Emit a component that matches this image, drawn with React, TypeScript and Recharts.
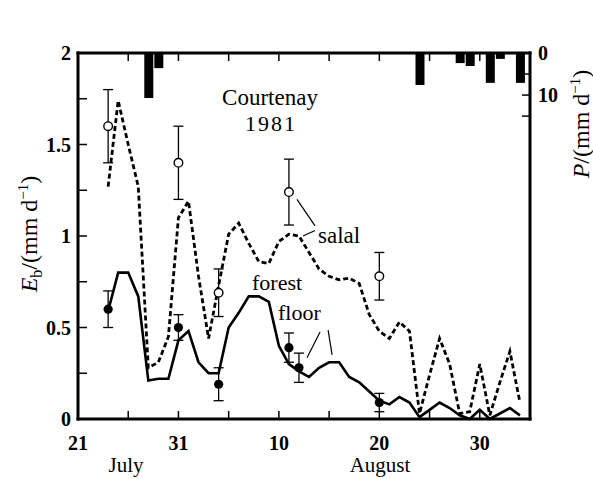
import React from 'react';
import { ComposedChart, Line, Bar, Scatter, ErrorBar, XAxis, YAxis, ReferenceLine } from 'recharts';

// days counted from 21 July 1981 (day 0) to 4 September (day 45)
const firstDay = 3;

// daily modelled evaporation E_b (mm/d), days 3..44
const salalEb = [
  1.27, 1.74, 1.5, 1.27, 0.28, 0.31, 0.45, 1.1, 1.19, 0.78,
  0.44, 0.73, 1.01, 1.07, 0.96, 0.86, 0.85, 0.97, 1.01, 1.0,
  0.91, 0.82, 0.78, 0.76, 0.77, 0.74, 0.57, 0.48, 0.44, 0.53,
  0.48, 0.03, 0.24, 0.44, 0.3, 0.03, 0.04, 0.3, 0.02, 0.2,
  0.37, 0.09,
];
const floorEb = [
  0.59, 0.8, 0.8, 0.67, 0.21, 0.22, 0.22, 0.43, 0.48, 0.31,
  0.25, 0.25, 0.5, 0.58, 0.67, 0.67, 0.64, 0.4, 0.3, 0.26,
  0.23, 0.28, 0.31, 0.31, 0.23, 0.2, 0.15, 0.1, 0.08, 0.12,
  0.09, 0.01, 0.05, 0.09, 0.06, 0.02, 0.0, 0.05, 0.0, 0.03,
  0.06, 0.02,
];

// rainfall P (mm/d)
const rainDays = [7, 8, 34, 38, 39, 41, 42, 44];
const rainMm = [10.7, 3.6, 7.6, 2.4, 3.1, 7.1, 1.4, 7.1];

// lysimeter measurements with their error
const salalObsDays = [3, 10, 14, 21, 30];
const salalObsEb = [1.6, 1.4, 0.69, 1.24, 0.78];
const salalObsErr = [0.2, 0.2, 0.13, 0.18, 0.13];
const floorObsDays = [3, 10, 14, 21, 22, 30];
const floorObsEb = [0.6, 0.5, 0.19, 0.39, 0.28, 0.09];
const floorObsErr = [0.1, 0.07, 0.09, 0.08, 0.08, 0.05];

const dayTicks = [0, 5, 10, 15, 20, 25, 30, 35, 40];
const dayLabels: Record<number, string> = { 0: '21', 10: '31', 20: '10', 30: '20', 40: '30' };
const ebTicks = [0, 0.25, 0.5, 0.75, 1, 1.25, 1.5, 1.75, 2];
const ebLabels: Record<number, string> = { 0: '0', 0.5: '0.5', 1: '1', 1.5: '1.5', 2: '2' };
const ebRightTicks = [0.25, 0.5, 0.75, 1, 1.25, 1.5];
const pTicks = [0, 5, 10, 15];
const pLabels: Record<number, string> = { 0: '0', 10: '10' };

const table = Array.from({ length: 46 }, (_, day) => {
  const i = day - firstDay;
  const r = rainDays.indexOf(day);
  return {
    day,
    salal: salalEb[i] ?? null,
    floor: floorEb[i] ?? null,
    rain: r >= 0 ? rainMm[r] : null,
  };
});

const salalObs = salalObsDays.map((day, i) => ({ day, eb: salalObsEb[i], err: salalObsErr[i] }));
const floorObs = floorObsDays.map((day, i) => ({ day, eb: floorObsEb[i], err: floorObsErr[i] }));

const serif = '"Liberation Serif", "DejaVu Serif", serif';
const tickFont = { fontFamily: serif, fontSize: 20, fontWeight: 700, fill: '#000' };
const textFont = { fontFamily: serif, fontSize: 22, fill: '#000' };
const titleFont = { fontFamily: serif, fontSize: 24, fill: '#000' };
const frame = { stroke: '#000', strokeWidth: 3, strokeLinecap: 'square' as const };

const BottomTick = ({ x, y, payload }: any) => (
  <g>
    <line x1={x} y1={y} x2={x} y2={y - 8} stroke="#000" strokeWidth={1.5} />
    {dayLabels[payload.value] && (
      <text x={x} y={y + 31} textAnchor="middle" style={tickFont}>{dayLabels[payload.value]}</text>
    )}
  </g>
);

const TopTick = ({ x, y }: any) => (
  <line x1={x} y1={y} x2={x} y2={y + 8} stroke="#000" strokeWidth={1.5} />
);

const LeftTick = ({ x, y, payload }: any) => (
  <g>
    <line x1={x} y1={y} x2={x + 9} y2={y} stroke="#000" strokeWidth={1.5} />
    {ebLabels[payload.value] && (
      <text x={x - 7} y={y + 7} textAnchor="end" style={tickFont}>{ebLabels[payload.value]}</text>
    )}
  </g>
);

const RightTick = ({ x, y }: any) => (
  <line x1={x - 8} y1={y} x2={x} y2={y} stroke="#000" strokeWidth={1.5} />
);

const PTick = ({ x, y, payload }: any) => (
  <g>
    <line x1={x - 9} y1={y} x2={x - 1} y2={y} stroke="#000" strokeWidth={1.5} />
    {pLabels[payload.value] && (
      <text x={x + 7} y={y + 7} textAnchor="start" style={tickFont}>{pLabels[payload.value]}</text>
    )}
  </g>
);

const OpenDot = ({ cx, cy }: any) => (
  <circle cx={cx} cy={cy} r={4.3} fill="#fff" stroke="#000" strokeWidth={1.4} />
);
const FilledDot = ({ cx, cy }: any) => <circle cx={cx} cy={cy} r={4.6} fill="#000" />;

const leader = { xAxisId: 'bottom', yAxisId: 'e', stroke: '#000', strokeWidth: 1.2 };

export default function App() {
  return (
    <div style={{ width: 593, height: 479, background: '#fff' }}>
      <style>{'body { margin: 0; }'}</style>
      <ComposedChart width={593} height={479} data={table} margin={{ top: 0, right: 0, bottom: 0, left: 0 }}>
        <XAxis xAxisId="bottom" dataKey="day" type="number" domain={[0, 45]} ticks={dayTicks} interval={0}
          height={60} tickSize={0} tickMargin={0} tickLine={false} axisLine={frame} tick={<BottomTick />} />
        <XAxis xAxisId="top" orientation="top" dataKey="day" type="number" domain={[0, 45]} ticks={dayTicks} interval={0}
          height={53} tickSize={0} tickMargin={0} tickLine={false} axisLine={frame} tick={<TopTick />} />
        <YAxis yAxisId="e" type="number" domain={[0, 2]} ticks={ebTicks} interval={0} width={78}
          tickSize={0} tickMargin={0} tickLine={false} axisLine={frame} tick={<LeftTick />} />
        <YAxis yAxisId="eR" orientation="right" type="number" domain={[0, 2]} ticks={ebRightTicks} interval={0} width={1}
          tickSize={0} tickMargin={0} tickLine={false} axisLine={frame} tick={<RightTick />} />
        <YAxis yAxisId="p" orientation="right" type="number" reversed domain={[0, 87]} ticks={pTicks} interval={0} width={62}
          tickSize={0} tickMargin={0} tickLine={false} axisLine={false} tick={<PTick />} />

        <Bar xAxisId="top" yAxisId="p" dataKey="rain" fill="#000" barSize={9} isAnimationActive={false} />

        <Line xAxisId="bottom" yAxisId="e" type="linear" dataKey="salal" stroke="#000" strokeWidth={2.8}
          strokeDasharray="5 3" dot={false} isAnimationActive={false} />
        <Line xAxisId="bottom" yAxisId="e" type="linear" dataKey="floor" stroke="#000" strokeWidth={2.6}
          dot={false} isAnimationActive={false} />

        <Scatter xAxisId="bottom" yAxisId="e" data={salalObs} dataKey="eb" shape={OpenDot} isAnimationActive={false}>
          <ErrorBar dataKey="err" direction="y" width={5} stroke="#000" strokeWidth={1.3} />
        </Scatter>
        <Scatter xAxisId="bottom" yAxisId="e" data={floorObs} dataKey="eb" shape={FilledDot} isAnimationActive={false}>
          <ErrorBar dataKey="err" direction="y" width={5} stroke="#000" strokeWidth={1.3} />
        </Scatter>

        {/* label leaders */}
        <ReferenceLine {...leader} segment={[{ x: 21.8, y: 1.2 }, { x: 23.6, y: 1.055 }]} />
        <ReferenceLine {...leader} segment={[{ x: 22.4, y: 1.0 }, { x: 23.6, y: 1.03 }]} />
        <ReferenceLine {...leader} segment={[{ x: 24.1, y: 0.475 }, { x: 22.8, y: 0.335 }]} />
        <ReferenceLine {...leader} segment={[{ x: 24.9, y: 0.486 }, { x: 25.3, y: 0.35 }]} />

        <text x={270} y={105} textAnchor="middle" style={{ ...textFont, fontSize: 23 }}>Courtenay</text>
        <text x={271} y={131} textAnchor="middle" style={{ ...textFont, letterSpacing: 2 }}>1981</text>
        <text x={318} y={243} style={{ ...textFont, fontSize: 23 }}>salal</text>
        <text x={252} y={290} style={textFont}>forest</text>
        <text x={278} y={320} style={textFont}>floor</text>

        <text x={126} y={472} textAnchor="middle" style={{ ...textFont, fontSize: 21 }}>July</text>
        <text x={380} y={472} textAnchor="middle" style={{ ...textFont, fontSize: 21 }}>August</text>

        <text transform="translate(37,234) rotate(-90)" textAnchor="middle" style={titleFont}>
          <tspan fontStyle="italic">E</tspan>
          <tspan dy={5} fontSize={16}>b</tspan>
          <tspan dy={-5}>/(mm d</tspan>
          <tspan dy={-9} fontSize={15}>−1</tspan>
          <tspan dy={9}>)</tspan>
        </text>
        <text transform="translate(589,124) rotate(-90)" textAnchor="middle" style={titleFont}>
          <tspan fontStyle="italic">P</tspan>
          <tspan>/(mm d</tspan>
          <tspan dy={-9} fontSize={15}>−1</tspan>
          <tspan dy={9}>)</tspan>
        </text>
      </ComposedChart>
    </div>
  );
}
